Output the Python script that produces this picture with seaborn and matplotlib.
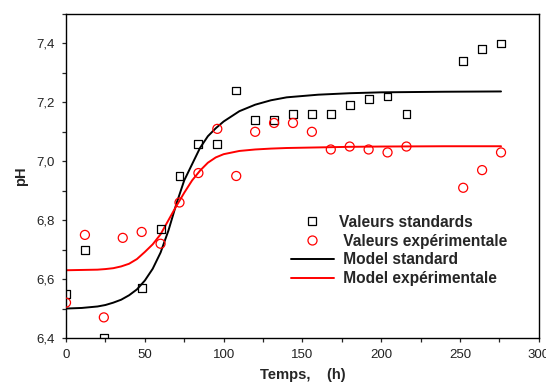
import pandas as pd
import matplotlib
matplotlib.use("Agg")
import matplotlib.pyplot as plt
import seaborn as sns
from matplotlib.lines import Line2D
from matplotlib.ticker import MultipleLocator, FuncFormatter

# Valeurs mesurées
t_std = [0, 12, 24, 48, 60, 72, 84, 96, 108, 120, 132, 144, 156, 168, 180,
         192, 204, 216, 252, 264, 276]
ph_std = [6.55, 6.70, 6.40, 6.57, 6.77, 6.95, 7.06, 7.06, 7.24, 7.14, 7.14,
          7.16, 7.16, 7.16, 7.19, 7.21, 7.22, 7.16, 7.34, 7.38, 7.40]

t_exp = [0, 12, 24, 36, 48, 60, 72, 84, 96, 108, 120, 132, 144, 156, 168,
         180, 192, 204, 216, 252, 264, 276]
ph_exp = [6.52, 6.75, 6.47, 6.74, 6.76, 6.72, 6.86, 6.96, 7.11, 6.95, 7.10,
          7.13, 7.13, 7.10, 7.04, 7.05, 7.04, 7.03, 7.05, 6.91, 6.97, 7.03]

# Courbes du modèle
t_model = [0, 10, 20, 25, 30, 35, 40, 45, 50, 55, 60, 65, 70, 75, 80, 85,
           90, 95, 100, 110, 120, 130, 140, 160, 180, 200, 240, 276]
ph_model_std = [6.500, 6.502, 6.507, 6.512, 6.520, 6.530, 6.545, 6.565,
                6.595, 6.635, 6.690, 6.765, 6.855, 6.935, 6.990, 7.045,
                7.085, 7.112, 7.135, 7.170, 7.192, 7.207, 7.217, 7.226,
                7.231, 7.234, 7.236, 7.237]
ph_model_exp = [6.630, 6.631, 6.632, 6.634, 6.637, 6.643, 6.652, 6.668,
                6.692, 6.718, 6.752, 6.800, 6.848, 6.893, 6.935, 6.968,
                6.995, 7.013, 7.024, 7.035, 7.040, 7.043, 7.045, 7.047,
                7.049, 7.050, 7.051, 7.051]

sns.set_style("ticks")
plt.rcParams['font.family'] = ['Liberation Sans', 'DejaVu Sans']

fig = plt.figure(figsize=(5.46, 3.83), dpi=100)
ax = fig.add_axes([0.1209, 0.1175, 0.866, 0.846])

sns.lineplot(x=t_model, y=ph_model_std, color='black', linewidth=1.4, ax=ax)
sns.lineplot(x=t_model, y=ph_model_exp, color='red', linewidth=1.4, ax=ax)
sns.scatterplot(x=t_std, y=ph_std, marker='s', s=32, facecolor='none',
                edgecolor='black', linewidth=0.9, ax=ax, zorder=3)
sns.scatterplot(x=t_exp, y=ph_exp, marker='o', s=42, facecolor='none',
                edgecolor='red', linewidth=0.9, ax=ax, zorder=3)

ax.set_xlim(0, 300)
ax.set_ylim(6.4, 7.5)
ax.xaxis.set_major_locator(MultipleLocator(50))
ax.xaxis.set_minor_locator(MultipleLocator(25))
ax.yaxis.set_major_locator(MultipleLocator(0.2))
ax.yaxis.set_minor_locator(MultipleLocator(0.1))
ax.yaxis.set_major_formatter(FuncFormatter(lambda v, p: f'{v:.1f}'.replace('.', ',')))
ax.tick_params(which='both', direction='out', length=3, width=0.9,
               labelsize=9.5, labelcolor='#222222', pad=5)
for sp in ax.spines.values():
    sp.set_visible(True)
    sp.set_linewidth(1.0)
    sp.set_color('black')

ax.set_xlabel('Temps,    (h)', fontsize=10.6, fontweight='bold', labelpad=5)
ax.set_ylabel('pH', fontsize=10.5, fontweight='bold', labelpad=6)

handles = [
    Line2D([], [], linestyle='', marker='s', markersize=5.5, markerfacecolor='none',
           markeredgecolor='black', markeredgewidth=0.9),
    Line2D([], [], linestyle='', marker='o', markersize=6.5, markerfacecolor='none',
           markeredgecolor='red', markeredgewidth=0.9),
    Line2D([], [], color='black', linewidth=1.4),
    Line2D([], [], color='red', linewidth=1.4),
]
labels = ['Valeurs standards', ' Valeurs expérimentale', ' Model standard',
          ' Model expérimentale']
ax.legend(handles, labels, loc='upper left', bbox_to_anchor=(0.476, 0.38),
          frameon=False, prop={'size': 11.2, 'weight': 'bold'},
          handlelength=2.75, handletextpad=0.35, labelspacing=0.24,
          borderpad=0, borderaxespad=0)

fig.savefig('out.png', dpi=100)
